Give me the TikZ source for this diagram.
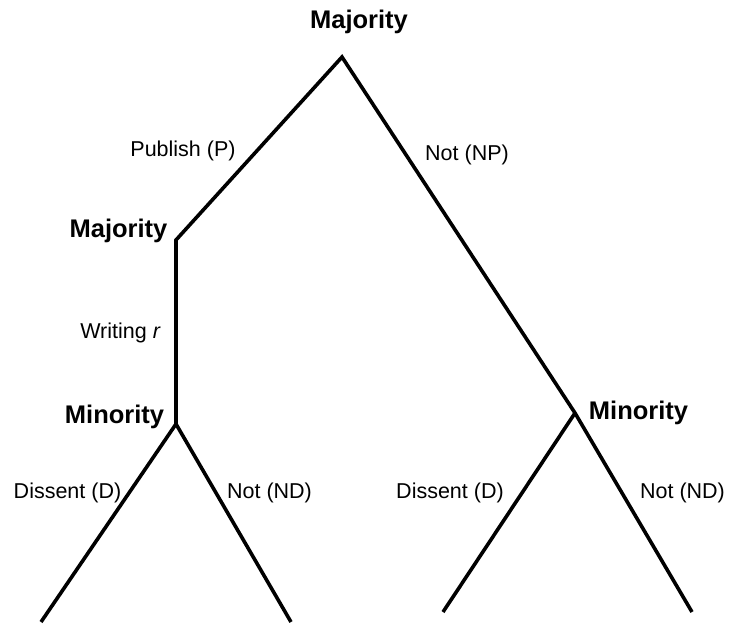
\documentclass[tikz,border=0pt]{standalone}
\usepackage{fontspec}
\setmainfont{Liberation Sans}
\usetikzlibrary{positioning}

\begin{document}
\begin{tikzpicture}[
    x=1pt,
    y=-1pt,
    branch/.style={
        line width=3.6pt,
        line join=miter,
        draw=black
    },
    player/.style={
        font=\fontsize{25.5}{30}\selectfont\bfseries,
        inner sep=0pt,
        anchor=base
    },
    move/.style={
        font=\fontsize{21.5}{26}\selectfont,
        inner sep=0pt,
        anchor=base
    }
]

\useasboundingbox (0,0) rectangle (732,630);

% decision points and leaves
\coordinate (root) at (342,57);
\coordinate (majleft) at (176,240);
\coordinate (minleft) at (176,424);
\coordinate (minright) at (575,413);
\coordinate (leafdl) at (41,622);
\coordinate (leafndl) at (291,622);
\coordinate (leafdr) at (443,612);
\coordinate (leafndr) at (692,612);

\draw[branch] (minleft) -- (majleft) -- (root) -- (minright) -- (leafndr);
\draw[branch] (leafdl) -- (minleft) -- (leafndl);
\draw[branch] (minright) -- (leafdr);

% players
\node[player] (majtop) at (359,28) {Majority};
\node[player] (majmid) at (118.5,237) {Majority};
\node[player] (minl) at (114.5,423) {Minority};
\node[player] (minr) at (638.5,419) {Minority};

% moves
\node[move] (publish) at (183,156) {Publish (P)};
\node[move] (notnp) at (467,160) {Not (NP)};
\node[move] (writing) at (120.5,338) {Writing \textit{r}};
\node[move] (dissl) at (67.5,498) {Dissent (D)};
\node[move] (notndl) at (269.5,498) {Not (ND)};
\node[move] (dissr) at (450,498) {Dissent (D)};
\node[move] (notndr) at (682.5,498) {Not (ND)};

\end{tikzpicture}
\end{document}
